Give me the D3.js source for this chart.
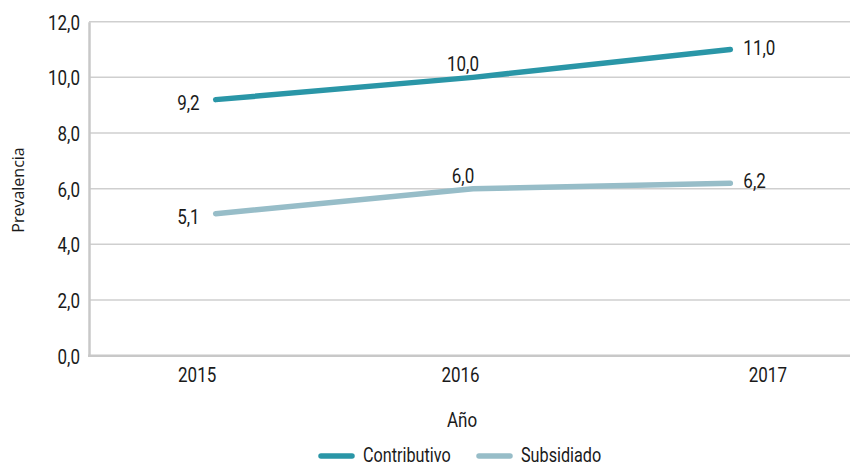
<!DOCTYPE html>
<html>
<head>
<meta charset="utf-8">
<script src="https://cdn.jsdelivr.net/npm/d3@7/dist/d3.min.js"></script>
<style>
  html, body { margin: 0; padding: 0; background: #fff; }
  svg { display: block; }
  .cond { font-family: Roboto, "DejaVu Sans Condensed", sans-serif; fill: #1a1a1a; }
</style>
</head>
<body>
<svg id="chart" width="850" height="466"></svg>
<script>
const years = ["2015", "2016", "2017"];
const contributivo = [9.2, 10.0, 11.0];
const subsidiado = [5.1, 6.0, 6.2];
const yTicks = [0, 2, 4, 6, 8, 10, 12];
const seriesNames = ["Contributivo", "Subsidiado"];
const seriesColors = ["#2a96a7", "#97bdc8"];

(function () {
const svg = d3.select("#chart");
const pLeft = 89, pRight = 850, pTop = 21.7, pBottom = 355.7;
const SX = 0.81; // horizontal condensing of the text face

const x = d3.scalePoint().domain(years).range([87, 859]).padding(0.5);
const y = d3.scaleLinear().domain([0, 12]).range([pBottom, pTop]);
const fmt = v => d3.format(".1f")(v).replace(".", ",");

function label(parent, px, py, str, size, anchor) {
  return parent.append("text").attr("class", "cond")
    .attr("transform", `translate(${px},${py}) scale(${SX},1)`)
    .attr("text-anchor", anchor).style("font-size", size + "px").text(str);
}

// gridlines
svg.append("g").selectAll("line").data(yTicks.filter(t => t > 0)).join("line")
  .attr("x1", pLeft).attr("x2", pRight)
  .attr("y1", d => y(d)).attr("y2", d => y(d))
  .attr("stroke", "#cfcfcf").attr("stroke-width", 1.5);

// y axis
const yAxis = svg.append("g").attr("transform", `translate(${pLeft},0)`)
  .call(d3.axisLeft(y).tickValues(yTicks).tickFormat(fmt).tickSize(0).tickPadding(9));
yAxis.select(".domain").attr("stroke", "#c8c8c8").attr("stroke-width", 2.5);
yAxis.selectAll("text").attr("class", "cond").style("font-size", "21px")
  .attr("x", -9 / SX).attr("dy", "0.36em").attr("transform", `scale(${SX},1)`);

// x axis line
svg.append("line").attr("x1", pLeft - 1).attr("x2", pRight).attr("y1", pBottom).attr("y2", pBottom)
  .attr("stroke", "#c8c8c8").attr("stroke-width", 2.5);
const xLabelShift = [-19, -13, 37];
const xAxis = svg.append("g").attr("transform", `translate(0,${pBottom})`)
  .call(d3.axisBottom(x).tickSize(0).tickPadding(11));
xAxis.select(".domain").remove();
xAxis.selectAll("text").attr("class", "cond").style("font-size", "21px")
  .attr("x", (d, i) => xLabelShift[i] / SX).attr("transform", `scale(${SX},1)`);

// axis titles
label(svg, 462, 427, "Año", 21, "middle");
svg.append("text").attr("transform", "translate(24,190) rotate(-90)")
  .attr("text-anchor", "middle").style("font-family", "'Open Sans', sans-serif")
  .style("font-size", "16px").attr("fill", "#1a1a1a").text("Prevalencia");

// lines
const line = d3.line().x((d, i) => x(years[i])).y(d => y(d));
const allSeries = [contributivo, subsidiado];
svg.append("g").selectAll("path").data(allSeries).join("path")
  .attr("d", d => line(d)).attr("fill", "none")
  .attr("stroke", (d, i) => seriesColors[i]).attr("stroke-width", 5.5)
  .attr("stroke-linecap", "round").attr("stroke-linejoin", "round");

// data labels: left, above, right
allSeries.forEach(s => {
  s.forEach((v, i) => {
    const px = x(years[i]), py = y(v);
    if (i === 0) label(svg, px - 16, py + 10, fmt(v), 21, "end");
    else if (i === 1) label(svg, px - 10, py - 6, fmt(v), 21, "middle");
    else label(svg, px + 13, py + 5, fmt(v), 21, "start");
  });
});

// legend
const legendItems = [
  { name: seriesNames[0], color: seriesColors[0], x1: 321, tx: 363 },
  { name: seriesNames[1], color: seriesColors[1], x1: 479, tx: 521 }
];
const lg = svg.append("g");
legendItems.forEach(it => {
  lg.append("line").attr("x1", it.x1).attr("x2", it.x1 + 31).attr("y1", 456).attr("y2", 456)
    .attr("stroke", it.color).attr("stroke-width", 5.5).attr("stroke-linecap", "round");
  label(lg, it.tx, 462, it.name, 20, "start");
});
})();
</script>
</body>
</html>
